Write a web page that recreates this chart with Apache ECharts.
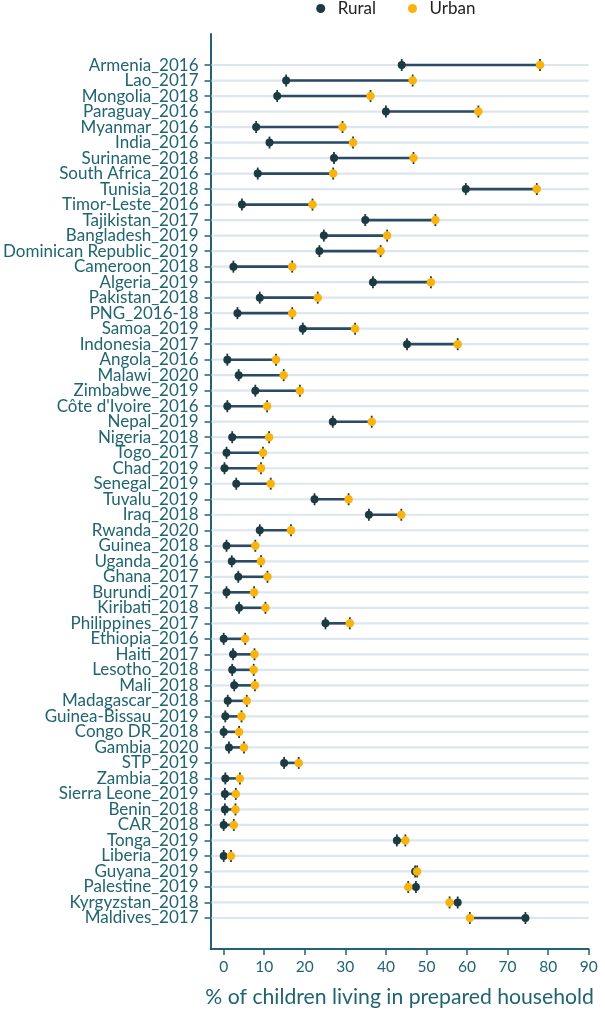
<!DOCTYPE html>
<html>
<head>
<meta charset="utf-8">
<script src="https://cdn.jsdelivr.net/npm/echarts@6/dist/echarts.min.js"></script>
<style>
html,body{margin:0;padding:0;background:#fff;}
#chart{width:605px;height:1013px;}
</style>
</head>
<body>
<div id="chart"></div>
<script>
var countries = ["Armenia_2016","Lao_2017","Mongolia_2018","Paraguay_2016","Myanmar_2016","India_2016","Suriname_2018","South Africa_2016","Tunisia_2018","Timor-Leste_2016","Tajikistan_2017","Bangladesh_2019","Dominican Republic_2019","Cameroon_2018","Algeria_2019","Pakistan_2018","PNG_2016-18","Samoa_2019","Indonesia_2017","Angola_2016","Malawi_2020","Zimbabwe_2019","Côte d'Ivoire_2016","Nepal_2019","Nigeria_2018","Togo_2017","Chad_2019","Senegal_2019","Tuvalu_2019","Iraq_2018","Rwanda_2020","Guinea_2018","Uganda_2016","Ghana_2017","Burundi_2017","Kiribati_2018","Philippines_2017","Ethiopia_2016","Haiti_2017","Lesotho_2018","Mali_2018","Madagascar_2018","Guinea-Bissau_2019","Congo DR_2018","Gambia_2020","STP_2019","Zambia_2018","Sierra Leone_2019","Benin_2018","CAR_2018","Tonga_2019","Liberia_2019","Guyana_2019","Palestine_2019","Kyrgyzstan_2018","Maldives_2017"];
var rural = [43.9,15.4,13.2,40.0,8.0,11.3,27.2,8.4,59.7,4.5,34.9,24.7,23.6,2.4,36.8,8.9,3.4,19.5,45.2,0.9,3.7,7.8,0.9,26.9,2.1,0.7,0.2,3.1,22.4,35.8,8.9,0.7,2.0,3.6,0.7,3.8,25.1,0.0,2.3,2.1,2.6,1.0,0.4,0.0,1.3,14.9,0.4,0.3,0.3,0.0,42.7,0.0,47.2,47.4,57.7,74.4];
var urban = [78.0,46.6,36.2,62.8,29.3,31.9,46.8,27.0,77.2,21.9,52.2,40.3,38.7,16.9,51.1,23.2,16.9,32.4,57.7,12.9,14.8,18.8,10.7,36.5,11.2,9.7,9.2,11.6,30.8,43.8,16.6,7.8,9.2,10.8,7.5,10.3,31.1,5.3,7.6,7.4,7.7,5.7,4.4,3.8,5.0,18.5,4.0,3.0,2.9,2.5,44.8,1.8,47.7,45.5,55.7,60.7];
var xTicks = [0,10,20,30,40,50,60,70,80,90];
var xTitle = "% of children living in prepared household";

var font = "Lato";
var teal = "#1f6470";
var PAD = 2;
// category list padded with empty slots so the axis extends beyond the first/last row
var cats = ['pad0','pad1'].concat(countries, ['pad2','pad3']);
function isRow(i){ return i >= PAD && i < PAD + countries.length; }
var ruralData = rural.map(function(v,i){return [v,i+PAD];});
var urbanData = urban.map(function(v,i){return [v,i+PAD];});
var pairData = rural.map(function(v,i){return [v,urban[i],i+PAD];});

var chart = echarts.init(document.getElementById('chart'));
chart.setOption({
  animation:false,
  textStyle:{fontFamily:font},
  legend:{
    data:['Rural','Urban'],
    top:0, left:316.2, padding:0,
    icon:'circle', itemWidth:24, itemHeight:9, itemGap:32,
    textStyle:{fontFamily:font,fontSize:17,color:'#222'}
  },
  grid:{left:206,right:16.3,top:34,bottom:63.7,containLabel:false},
  xAxis:{
    type:'value', min:-3.24, max:90,
    axisLine:{show:true,onZero:false,lineStyle:{color:teal,width:2}},
    axisTick:{show:true,length:6,lineStyle:{color:teal,width:1.5},customValues:xTicks},
    axisLabel:{color:teal,fontSize:15.5,margin:10,fontFamily:font,customValues:xTicks},
    splitLine:{show:false},
    name:xTitle, nameLocation:'middle', nameGap:38,
    nameTextStyle:{color:teal,fontSize:21.2,fontFamily:font}
  },
  yAxis:{
    type:'category', data:cats, inverse:true, boundaryGap:false,
    axisLine:{show:true,onZero:false,lineStyle:{color:teal,width:2}},
    axisTick:{show:true,length:6,lineStyle:{color:teal,width:1.5},
      interval:function(i){return isRow(i);}},
    axisLabel:{color:teal,fontSize:17,margin:12,fontFamily:font,interval:0,
      formatter:function(v,i){return isRow(i) ? v : '';}},
    splitLine:{show:false}
  },
  series:[
    {
      type:'custom', name:'pairs', silent:true, z:2,
      data:pairData,
      encode:{x:[0,1],y:2},
      renderItem:function(params,api){
        var cs = params.coordSys;
        var a = api.coord([api.value(0),api.value(2)]);
        var b = api.coord([api.value(1),api.value(2)]);
        var dark = '#1d3a44';
        return {type:'group',children:[
          {type:'line',shape:{x1:cs.x+1,y1:a[1],x2:cs.x+cs.width,y2:a[1]},style:{stroke:'#dde6ee',lineWidth:2.2}},
          {type:'line',shape:{x1:a[0],y1:a[1],x2:b[0],y2:b[1]},style:{stroke:'#2a4a66',lineWidth:2.6}},
          {type:'line',shape:{x1:a[0],y1:a[1]-6,x2:a[0],y2:a[1]+6},style:{stroke:dark,lineWidth:1.8}},
          {type:'line',shape:{x1:b[0],y1:b[1]-6,x2:b[0],y2:b[1]+6},style:{stroke:dark,lineWidth:1.8}}
        ]};
      }
    },
    {name:'Rural',type:'scatter',data:ruralData,symbol:'circle',symbolSize:8,z:3,
      itemStyle:{color:'#1c3a41',opacity:1}},
    {name:'Urban',type:'scatter',data:urbanData,symbol:'circle',symbolSize:8.5,z:4,
      itemStyle:{color:'#f9b30b',opacity:1}}
  ]
});
</script>
</body>
</html>
